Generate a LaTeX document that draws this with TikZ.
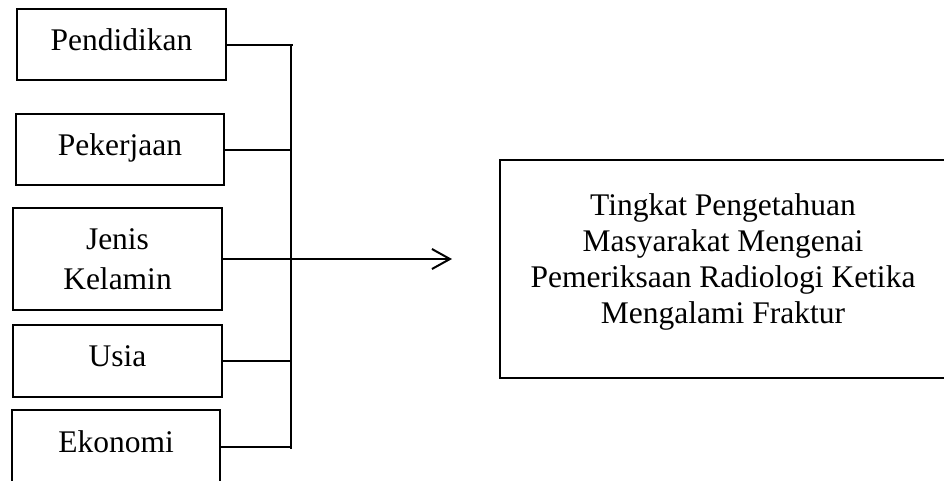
\documentclass[tikz,border=0pt]{standalone}
\usepackage{fontspec}
\setmainfont{Liberation Serif}
\usetikzlibrary{arrows.meta}
\begin{document}
\begin{tikzpicture}[x=1pt,y=-1pt,
  boxed/.style={draw, line width=2pt, rectangle, inner sep=0pt, align=center,
    font=\fontsize{31.5pt}{40pt}\selectfont},
  factor/.style={boxed, text height=22pt, text depth=11pt},
  conn/.style={line width=2pt},
  arr/.style={line width=2pt, -{Straight Barb[length=18pt,width=20pt,line width=2pt]}}]
\useasboundingbox (0,0) rectangle (944,480);
\fill[white] (0,0) rectangle (944,480);
\node[factor, minimum width=209pt, minimum height=71pt] (pend) at (121.5,44.5) {Pendidikan};
\node[factor, minimum width=208pt, minimum height=71pt] (pek) at (120,149.5) {Pekerjaan};
\node[boxed, minimum width=209pt, minimum height=102pt] (jk) at (117.5,259) {Jenis\\Kelamin};
\node[factor, minimum width=209pt, minimum height=72pt] (usia) at (117.5,361) {Usia};
\node[factor, minimum width=208pt, minimum height=74pt] (eko) at (116,447) {Ekonomi};
\node[draw, line width=2pt, rectangle, minimum width=446pt, minimum height=218pt,
  label={[yshift=7pt, align=center, font=\fontsize{31.5pt}{36pt}\selectfont]center:{Tingkat Pengetahuan\\Masyarakat Mengenai\\Pemeriksaan Radiologi Ketika\\Mengalami Fraktur}}]
  (out) at (723,269) {};
\coordinate (bt) at (291,44.5);
\coordinate (bb) at (291,449);
\coordinate (tip) at (452,259);
\draw[conn] (bt) -- (bb);
\draw[conn] (pend.east) -- ([xshift=2pt]pend.east -| bt);
\draw[conn] (pek.east) -- (pek.east -| bt);
\draw[conn] (usia.east) -- (usia.east -| bt);
\draw[conn] (eko.east) -- (eko.east -| bt);
\draw[arr] (jk.east) -- (tip);
\end{tikzpicture}
\end{document}
